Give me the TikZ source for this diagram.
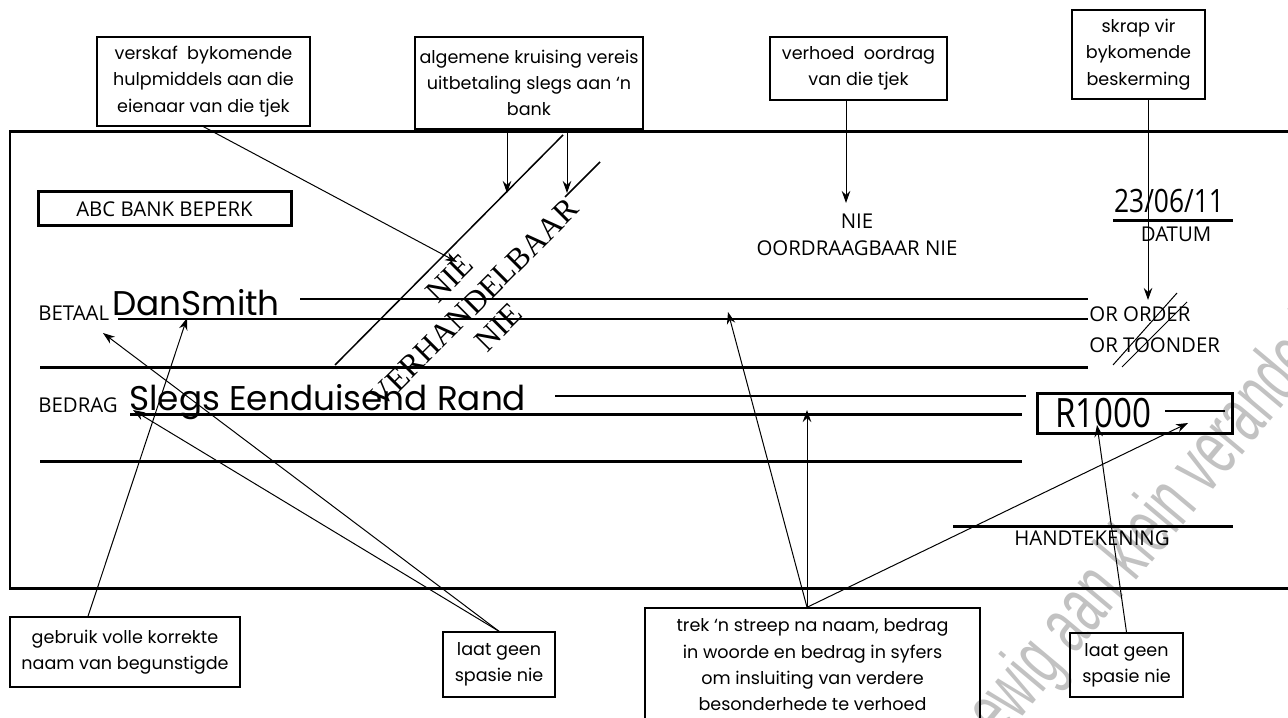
\documentclass[tikz,border=0pt]{standalone}
\usepackage{fontspec}
\setmainfont{Poppins}
\newfontfamily\printfont{Open Sans}
\newfontfamily\narrowfont[FakeStretch=0.82]{Open Sans}
\newfontfamily\crossfont{Liberation Serif}
\newfontfamily\markfont[FakeStretch=0.6]{Liberation Sans}
\usetikzlibrary{arrows.meta}

\tikzset{
    notebox/.style={draw, line width=0.028cm, align=center, inner sep=0pt,
        font=\fontsize{10}{15}\selectfont},
    pointer/.style={line width=0.02cm, -{Stealth[length=0.24cm,width=0.17cm]}},
    chequeline/.style={line width=0.06cm},
    thinline/.style={line width=0.03cm},
    printed/.style={inner sep=0pt, font=\printfont\fontsize{11.6}{15.4}\selectfont},
    written/.style={inner sep=0pt, font=\fontsize{19.5}{20}\selectfont},
}

\begin{document}
\begin{tikzpicture}
                \useasboundingbox (0,0) rectangle (25.76,14.34);
                \clip (0,0) rectangle (25.76,14.34);

                % Drawing watermark
                \node [rotate=50, inner sep=0pt, text=black!24, font=\markfont\fontsize{46}{46}\selectfont] (wmark) at (22.62,3.24) {onderhewig aan klein veranderinge};%

                % Drawing cheque frame
                \draw [chequeline] (26.00,11.70) -- (0.20,11.70) -- (0.20,2.58) -- (26.00,2.58);%

                % Drawing payee lines
                \draw [thinline] (6.00,8.36) -- (21.76,8.36);%
                \draw [chequeline] (2.36,7.96) -- (21.76,7.96);%
                \draw [chequeline] (0.80,7.00) -- (21.76,7.00);%

                % Drawing amount lines
                \draw [thinline] (11.10,6.42) -- (20.52,6.42);%
                \draw [chequeline] (2.60,6.06) -- (20.44,6.06);%
                \draw [chequeline] (0.80,5.12) -- (20.44,5.12);%

                % Drawing date and signature lines
                \draw [chequeline] (22.26,9.92) -- (24.66,9.92);%
                \draw [chequeline] (19.06,3.82) -- (24.66,3.82);%

                % Marking bank name
                \node [printed, draw, line width=0.06cm, minimum width=5.06cm, minimum height=0.68cm] (bank) at (3.29,10.16) {ABC BANK BEPERK};%

                % Marking payee and amount in words
                \node [printed, anchor=base west] (betaal) at (0.76,7.92) {BETAAL};%
                \node [written, anchor=base west] (payee) at (2.24,8.02) {DanSmith};%
                \node [printed, anchor=base west] (bedrag) at (0.76,6.10) {BEDRAG};%
                \node [written, anchor=base west] (words) at (2.58,6.14) {Slegs Eenduisend Rand};%

                % Marking not transferable
                \node [printed, align=center] (notrans) at (17.14,9.65) {NIE\\OORDRAAGBAAR NIE};%

                % Marking date
                \node [inner sep=0pt, anchor=base, font=\narrowfont\fontsize{18.3}{18}\selectfont] (date) at (23.38,10.08) {23/06/11};%
                \node [printed] (datum) at (23.52,9.65) {DATUM};%

                % Marking order or bearer
                \node [printed, anchor=base west] (order) at (21.78,7.90) {OR ORDER};%
                \node [printed, anchor=base west] (bearer) at (21.78,7.30) {OR TOONDER};%
                \draw [line width=0.02cm] (22.26,7.04) -- (23.54,8.48);%
                \draw [line width=0.02cm] (22.44,7.00) -- (23.74,8.30);%

                % Marking amount in figures
                \node [draw, line width=0.06cm, minimum width=3.90cm, minimum height=0.80cm] (figbox) at (22.69,6.08) {};%
                \node [inner sep=0pt, anchor=base west, font=\narrowfont\fontsize{23}{23}\selectfont] (figures) at (21.10,5.80) {R1000};%
                \draw [thinline] (23.30,6.12) -- (24.50,6.12);%

                % Marking signature
                \node [printed] (sign) at (21.84,3.58) {HANDTEKENING};%

                % Drawing crossing
                \draw [thinline] (6.70,7.04) -- (11.26,11.64);%
                \draw [thinline] (11.30,10.40) -- (12.00,11.10);%
                \node [rotate=45, align=center, inner sep=0pt, font=\crossfont\fontsize{18}{19.8}\selectfont] (crossing) at (9.48,8.28) {NIE\\VERHANDELBAAR\\NIE};%

                % Marking callout boxes
                \node [notebox, minimum width=4.26cm, minimum height=1.78cm] (extra) at (4.07,12.71) {verskaf~ bykomende\\hulpmiddels aan die\\eienaar van die tjek};%
                \node [notebox, minimum width=4.56cm, minimum height=1.84cm] (general) at (10.58,12.68) {algemene kruising vereis\\uitbetaling slegs aan ‘n\\bank};%
                \node [notebox, minimum width=3.54cm, minimum height=1.26cm] (transfer) at (17.17,12.97) {verhoed~ oordrag\\van die tjek};%
                \node [notebox, minimum width=2.66cm, minimum height=1.78cm] (strike) at (22.77,13.25) {skrap vir\\bykomende\\beskerming};%
                \node [notebox, minimum width=4.60cm, minimum height=1.40cm] (fullname) at (2.50,1.30) {gebruik volle korrekte\\naam van begunstigde};%
                \node [notebox, minimum width=2.24cm, minimum height=1.30cm] (nospace) at (9.98,1.05) {laat geen\\spasie nie};%
                \node [notebox, minimum width=6.70cm, minimum height=2.28cm] (closeoff) at (16.25,1.04) {trek ‘n streep na naam, bedrag\\in woorde en bedrag in syfers\\om insluiting van verdere\\besonderhede te verhoed};%
                \node [notebox, minimum width=2.26cm, minimum height=1.28cm] (nogap) at (22.53,1.04) {laat geen\\spasie nie};%

                % Marking arrow tips
                \coordinate (tipA) at (9.14,9.10);%
                \coordinate (tipBa) at (10.14,10.48);%
                \coordinate (tipBb) at (11.34,10.48);%
                \coordinate (tipC) at (16.92,10.28);%
                \coordinate (tipD) at (22.96,8.34);%
                \coordinate (tipName) at (3.74,7.98);%
                \coordinate (tipBetaal) at (2.06,7.68);%
                \coordinate (tipBedrag) at (2.66,6.14);%
                \coordinate (tipNaam) at (14.56,8.10);%
                \coordinate (tipWoorde) at (16.14,6.14);%
                \coordinate (tipSyfers) at (23.76,5.88);%
                \coordinate (tipR) at (21.94,5.84);%

                % Drawing arrows from top boxes
                \draw [pointer] (extra.south) -- (tipA);%
                \draw [pointer] (tipBa |- general.south) -- (tipBa);%
                \draw [pointer] (tipBb |- general.south) -- (tipBb);%
                \draw [pointer] (tipC |- transfer.south) -- (tipC);%
                \draw [pointer] (tipD |- strike.south) -- (tipD);%

                % Drawing arrows from bottom boxes
                \draw [pointer] ([xshift=-0.74cm]fullname.north) -- (tipName);%
                \draw [pointer] (nospace.north) -- (tipBetaal);%
                \draw [pointer] (nospace.north) -- (tipBedrag);%
                \draw [pointer] (tipWoorde |- closeoff.north) -- (tipNaam);%
                \draw [pointer] (tipWoorde |- closeoff.north) -- (tipWoorde);%
                \draw [pointer] (tipWoorde |- closeoff.north) -- (tipSyfers);%
                \draw [pointer] (nogap.north) -- (tipR);%
\end{tikzpicture}
\end{document}
